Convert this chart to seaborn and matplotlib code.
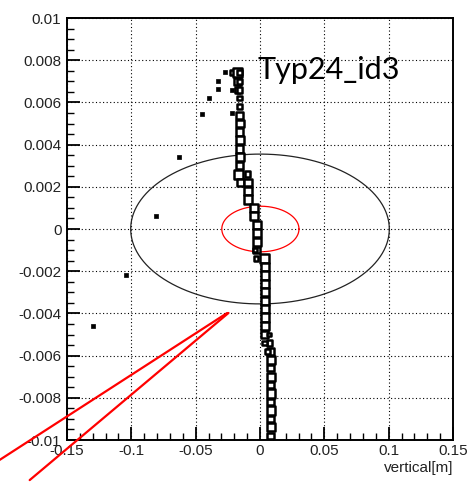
import numpy as np
import pandas as pd
import matplotlib
matplotlib.use("Agg")
import matplotlib.pyplot as plt
import seaborn as sns

# ---- data ----
# main column of box-histogram cells: x centre, y centre, relative box side
box_x = [-0.0210, -0.0175, -0.0158,
         -0.0175, -0.0158,
         -0.0175, -0.0158,
         -0.0158, -0.0158,
         -0.0158, -0.0158, -0.0158, -0.0158, -0.0158, -0.0158, -0.0158,
         -0.0165, -0.0096,
         -0.0150, -0.0096,
         -0.0096, -0.0096,
         -0.0045, -0.0045,
         -0.0026, -0.0026, -0.0026,
         -0.0026, -0.0040,
         -0.0032, 0.0037,
         0.0037, 0.0037, 0.0037, 0.0037, 0.0037, 0.0037, 0.0037, 0.0037,
         0.0037, 0.0072,
         0.0075, 0.0037,
         0.0080, 0.0060,
         0.0083, 0.0083, 0.0083, 0.0083, 0.0083, 0.0083, 0.0083, 0.0083, 0.0083, 0.0083]
box_y = [0.0074, 0.0074, 0.0074,
         0.0070, 0.0070,
         0.0066, 0.0066,
         0.0062, 0.0058,
         0.0054, 0.0050, 0.0046, 0.0042, 0.0038, 0.0034, 0.0030,
         0.0026, 0.0026,
         0.0022, 0.0022,
         0.0018, 0.0014,
         0.0010, 0.0006,
         0.0002, -0.0002, -0.0006,
         -0.0010, -0.0010,
         -0.0014, -0.0014,
         -0.0018, -0.0022, -0.0026, -0.0030, -0.0034, -0.0038, -0.0042, -0.0046,
         -0.0050, -0.0050,
         -0.0054, -0.0054,
         -0.0058, -0.0058,
         -0.0062, -0.0066, -0.0070, -0.0074, -0.0078, -0.0082, -0.0086, -0.0090, -0.0094, -0.0098]
box_side = [0.55, 0.95, 0.55,
            0.75, 0.6,
            0.6, 0.6,
            0.5, 0.6,
            0.75, 0.85, 0.8, 0.85, 0.8, 0.85, 0.8,
            1.0, 0.6,
            0.8, 0.85,
            0.9, 0.9,
            0.9, 0.9,
            0.9, 0.9, 0.9,
            0.7, 0.45,
            0.5, 0.95,
            0.9, 0.9, 0.9, 0.9, 0.9, 0.9, 0.9, 0.9,
            0.8, 0.4,
            0.6, 0.5,
            0.8, 0.5,
            0.9, 0.7, 0.9, 0.7, 0.9, 0.7, 0.9, 0.7, 0.9, 0.7]

# isolated single-entry cells
dot_x = [-0.0274, -0.0329, -0.0329, -0.0399, -0.0453, -0.0632, -0.0811, -0.1044, -0.1300, -0.0220, -0.0220]
dot_y = [0.00744, 0.0070, 0.00664, 0.0062, 0.00545, 0.00341, 0.00062, -0.00218, -0.0046, 0.0066, 0.0055]

# ellipses: centre x, centre y, semi-axis x, semi-axis y
black_ellipse = [0.0, 0.0, 0.1005, 0.00355]
red_ellipse = [0.0003, 0.0, 0.0300, 0.00108]

# red lines (start, end) in data coordinates
red_line_a_x = [-0.0255, -0.2025]
red_line_a_y = [-0.00398, -0.01095]
red_line_b_x = [-0.0245, -0.1790]
red_line_b_y = [-0.00398, -0.0119]

x_ticks = [-0.15, -0.1, -0.05, 0, 0.05, 0.1, 0.15]
x_tick_labels = ["-0.15", "-0.1", "-0.05", "0", "0.05", "0.1", "0.15"]
y_ticks = [-0.01, -0.008, -0.006, -0.004, -0.002, 0, 0.002, 0.004, 0.006, 0.008, 0.01]
y_tick_labels = ["-0.01", "-0.008", "-0.006", "-0.004", "-0.002", "0", "0.002", "0.004", "0.006", "0.008", "0.01"]
title_text = "Typ24_id3"
x_label = "vertical[m]"

# ---- plot ----
sns.set_theme(style="white")
plt.rcParams["font.family"] = ["Liberation Sans", "DejaVu Sans"]

fig = plt.figure(figsize=(4.71, 4.83), dpi=100)
ax = fig.add_axes([67 / 471, 43 / 483, 386 / 471, 422 / 483])

boxes = pd.DataFrame({"x": box_x, "y": box_y, "area": np.array(box_side) ** 2})
sns.scatterplot(data=boxes, x="x", y="y", size="area", sizes=(0, 44), size_norm=(0, 1),
                marker="s", facecolor="white", edgecolor="black", linewidth=1.8,
                legend=False, ax=ax, zorder=5)
dots = pd.DataFrame({"x": dot_x, "y": dot_y})
sns.scatterplot(data=dots, x="x", y="y", marker="s", s=5, color="black",
                edgecolor="black", linewidth=0.5, legend=False, ax=ax, zorder=5)

t = np.linspace(0, 2 * np.pi, 400)
for (cx, cy, a, b), col in [(black_ellipse, "#222222"), (red_ellipse, "#ff0000")]:
    ax.plot(cx + a * np.cos(t), cy + b * np.sin(t), color=col, lw=0.9, zorder=4)

ax.plot(red_line_a_x, red_line_a_y, color="#ff0000", lw=1.6, clip_on=False, zorder=6)
ax.plot(red_line_b_x, red_line_b_y, color="#ff0000", lw=1.6, clip_on=False, zorder=6)

ax.set_xlim(-0.15, 0.15)
ax.set_ylim(-0.01, 0.01)
ax.set_xticks(x_ticks)
ax.set_xticklabels(x_tick_labels)
ax.set_yticks(y_ticks)
ax.set_yticklabels(y_tick_labels)
ax.set_xticks(np.arange(-0.15, 0.1501, 0.01), minor=True)
ax.set_yticks(np.arange(-0.01, 0.01001, 0.0005), minor=True)
ax.tick_params(which="major", direction="in", length=9.4, width=1.3, color="black",
               labelsize=11, labelcolor="#222222", left=True, bottom=True, pad=4)
ax.tick_params(which="minor", direction="in", length=4.7, width=1.0, color="black",
               left=True, bottom=True)
ax.tick_params(axis="y", pad=4)
ax.tick_params(axis="x", pad=3)
ax.grid(True, which="major", color="black", linestyle=(0, (1, 2.2)), linewidth=0.8)
ax.set_axisbelow(True)
for s in ax.spines.values():
    s.set_color("black")
    s.set_linewidth(1.4)
ax.set_xlabel("")
ax.set_ylabel("")

ax.text(257, 483 - 79, title_text, transform=None, fontsize=22, family=["Lato", "DejaVu Sans"],
        color="black", ha="left", va="baseline", zorder=7)
fig.text(453 / 471, 1 - 468 / 483, x_label, fontsize=11, color="#222222", ha="right", va="center")

fig.savefig("out.png", dpi=100)
